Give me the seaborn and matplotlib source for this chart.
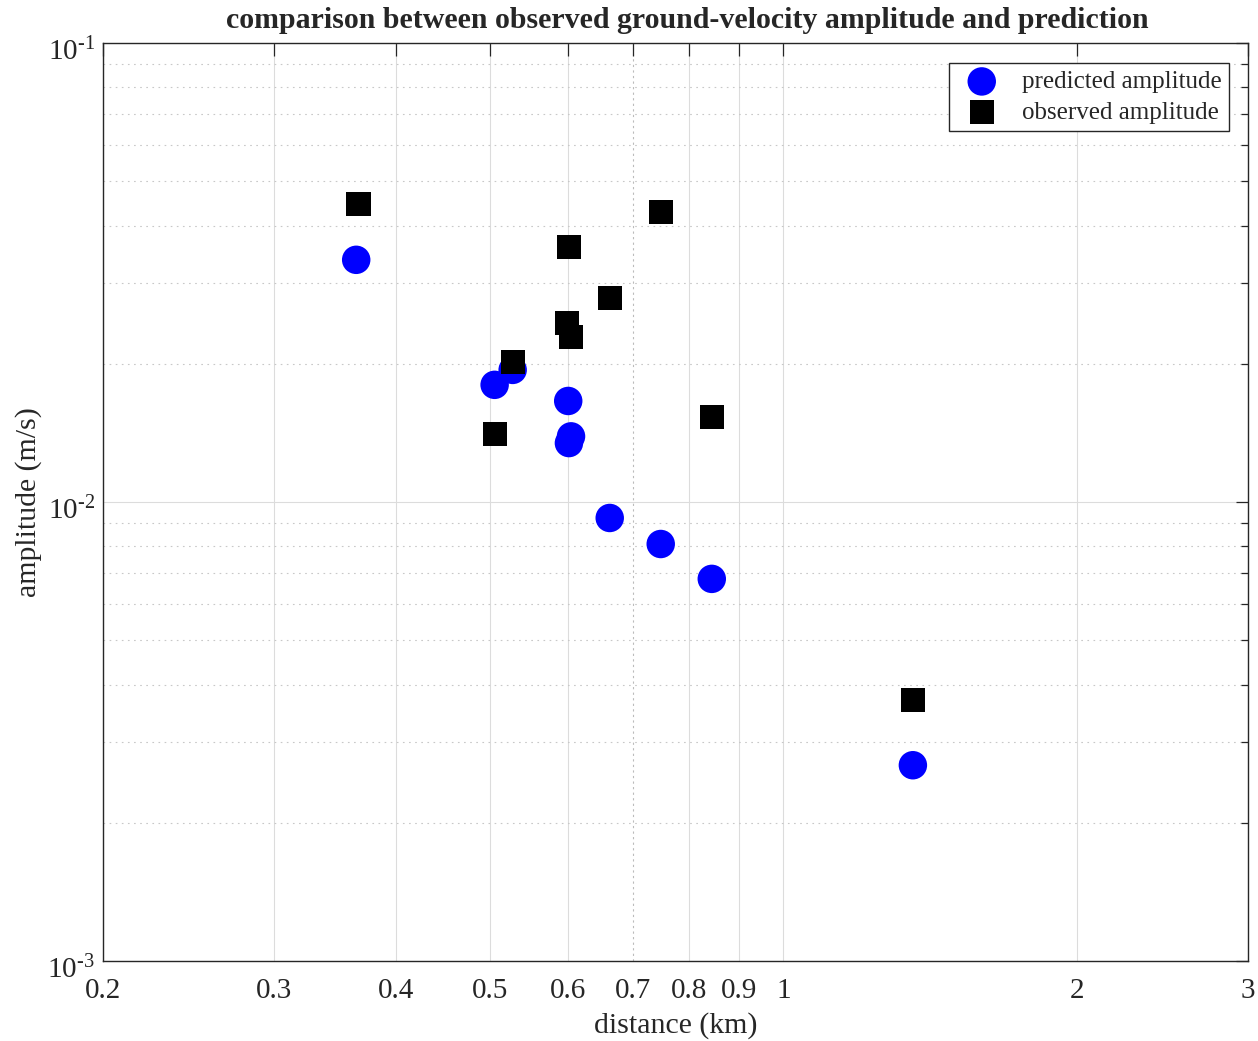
import numpy as np
import pandas as pd
import matplotlib
matplotlib.use("Agg")
import matplotlib.pyplot as plt
import matplotlib.transforms as mtransforms
import seaborn as sns
from matplotlib.ticker import FixedLocator, NullFormatter, LogLocator, FuncFormatter

# data (distance in km, amplitude in m/s)
distance = [0.364, 0.505, 0.527, 0.601, 0.605, 0.602, 0.663, 0.748, 0.844, 1.358]
predicted = [0.0337, 0.0180, 0.0194, 0.0166, 0.0139, 0.01344, 0.00923, 0.0081, 0.0068, 0.00267]
obs_distance = [0.366, 0.505, 0.527, 0.599, 0.605, 0.602, 0.663, 0.748, 0.844, 1.358]
observed = [0.0446, 0.01406, 0.0202, 0.02455, 0.02288, 0.0359, 0.0278, 0.0428, 0.01532, 0.0037]
xticks = [0.2, 0.3, 0.4, 0.5, 0.6, 0.7, 0.8, 0.9, 1, 2, 3]
xticklabels = ["0.2", "0.3", "0.4", "0.5", "0.6", "0.7", "0.8", "0.9", "1", "2", "3"]

sns.set_theme(style="white")
plt.rcParams["font.family"] = ["Liberation Serif", "DejaVu Serif"]
plt.rcParams["mathtext.fontset"] = "custom"
plt.rcParams["mathtext.rm"] = "Liberation Serif"
plt.rcParams["mathtext.it"] = "Liberation Serif:italic"
plt.rcParams["mathtext.bf"] = "Liberation Serif:bold"

fig = plt.figure(figsize=(12.58, 10.41), dpi=100)
ax = fig.add_axes([103/1258, 1-961/1041, (1248-103)/1258, (961-43)/1041])

df_pred = pd.DataFrame({"distance": distance, "amplitude": predicted})
df_obs = pd.DataFrame({"distance": obs_distance, "amplitude": observed})

sns.scatterplot(data=df_pred, x="distance", y="amplitude", ax=ax, marker="o",
                s=420, color="#0000ff", edgecolor="none", label="predicted amplitude", zorder=3)
sns.scatterplot(data=df_obs, x="distance", y="amplitude", ax=ax, marker="s",
                s=300, color="black", edgecolor="none", label="observed amplitude", zorder=4)

ax.set_xscale("log")
ax.set_yscale("log")
ax.set_xlim(0.2, 3)
ax.set_ylim(1e-3, 1e-1)

ax.xaxis.set_major_locator(FixedLocator(xticks))
ax.set_xticklabels(xticklabels)
ax.xaxis.set_minor_formatter(NullFormatter())
ax.xaxis.set_minor_locator(FixedLocator([]))
ax.yaxis.set_major_locator(LogLocator(base=10))
ax.yaxis.set_minor_locator(LogLocator(base=10, subs=np.arange(2, 10)))
ax.yaxis.set_minor_formatter(NullFormatter())

def yfmt(v, pos):
    e = int(round(np.log10(v)))
    return r"$10^{\text{-}%d}$" % (-e) if e < 0 else r"$10^{%d}$" % e

ax.yaxis.set_major_formatter(FuncFormatter(yfmt))

ax.grid(True, which="major", color="#dcdcdc", linewidth=0.8, linestyle="-")
ax.grid(True, which="minor", axis="y", color="#c8c8c8", linewidth=0.8, linestyle=(0, (1.5, 4)))
for t, gl in zip(xticks, ax.get_xgridlines()):
    if abs(t - 0.7) < 1e-9:
        gl.set_linestyle((0, (2, 3)))
        gl.set_color("#bbbbbb")

ax.tick_params(which="both", direction="in", top=True, right=True, colors="#262626",
               labelsize=21, labelcolor="#262626")
ax.tick_params(which="major", length=9, width=0.9)
ax.tick_params(which="minor", length=5, width=0.9)
ax.tick_params(axis="x", pad=12)
ax.tick_params(axis="y", pad=6)
for side in ["left", "bottom", "top", "right"]:
    ax.spines[side].set_visible(True)
    ax.spines[side].set_color("#262626")
    ax.spines[side].set_linewidth(1.0)

# shift y tick labels slightly down, as in the reference
offset = mtransforms.ScaledTranslation(0, -4/72, fig.dpi_scale_trans)
for lab in ax.get_yticklabels():
    lab.set_transform(lab.get_transform() + offset)

ax.set_xlabel("distance (km)", fontsize=21.5, color="#262626", labelpad=6)
ax.set_ylabel("amplitude (m/s)", fontsize=21.5, color="#262626", labelpad=4)
ax.set_title("comparison between observed ground-velocity amplitude and prediction",
             fontsize=21.5, fontweight="bold", pad=11, x=0.51)

leg = ax.legend(loc="upper right", fontsize=18, frameon=True, fancybox=False,
                edgecolor="#262626", framealpha=1, borderpad=0.3, handlelength=2.0,
                handletextpad=0.6, labelspacing=0.32, borderaxespad=0,
                bbox_to_anchor=(1 - 19/1145, 1 - 20/918))
leg.get_frame().set_linewidth(1.0)

fig.savefig("out.png", dpi=100)
